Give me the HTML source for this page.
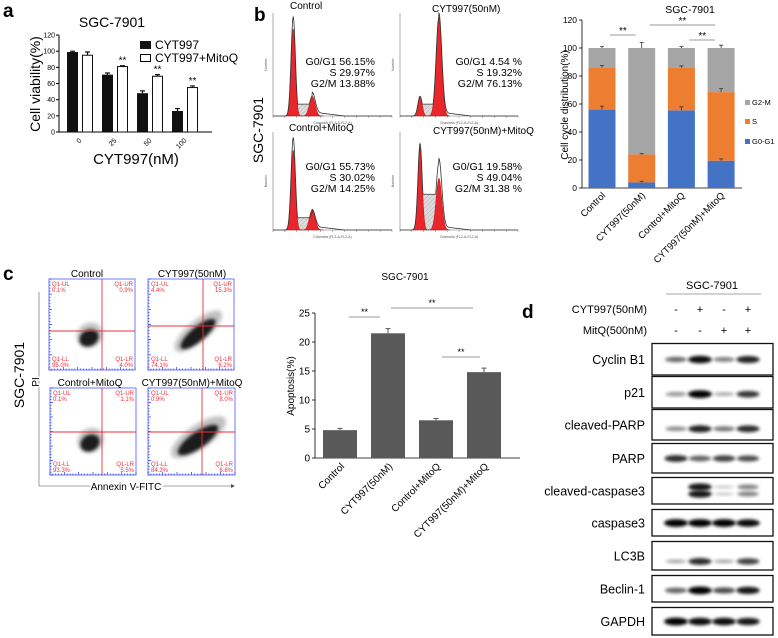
<!DOCTYPE html>
<html><head><meta charset="utf-8"><style>
html,body{margin:0;padding:0;background:#fff;}
svg{display:block;font-family:"Liberation Sans",Arial,sans-serif;}
</style></head><body>
<svg id="fig" width="778" height="638" viewBox="0 0 778 638" xmlns="http://www.w3.org/2000/svg">
<defs>
<filter id="blur1" x="-50%" y="-50%" width="200%" height="200%"><feGaussianBlur stdDeviation="1.6"/></filter>
<filter id="blur2" x="-50%" y="-50%" width="200%" height="200%"><feGaussianBlur stdDeviation="2"/></filter>
<pattern id="hatch" width="3" height="3" patternUnits="userSpaceOnUse" patternTransform="rotate(45)"><rect width="3" height="3" fill="#ddd"/><line x1="0" y1="0" x2="0" y2="3" stroke="#999" stroke-width="0.6"/></pattern>
</defs>
<text x="3" y="17" font-size="19" font-weight="bold">a</text>
<text x="254" y="21" font-size="19" font-weight="bold">b</text>
<text x="3" y="280" font-size="19" font-weight="bold">c</text>
<text x="522" y="318" font-size="19" font-weight="bold">d</text>

<g id="pa">
<text x="112" y="27" font-size="14" text-anchor="middle">SGC-7901</text>
<text transform="translate(40,84) rotate(-90)" font-size="14" text-anchor="middle">Cell viability(%)</text>
<text x="136" y="164" font-size="15" text-anchor="middle">CYT997(nM)</text>
<line x1="59" y1="35" x2="59" y2="132" stroke="#000" stroke-width="1"/>
<line x1="59" y1="132" x2="212" y2="132" stroke="#000" stroke-width="1"/>
<rect x="140" y="41" width="11" height="8" fill="#111"/>
<text x="155" y="49" font-size="12">CYT997</text>
<rect x="140.5" y="54.5" width="10" height="7" fill="#fff" stroke="#000"/>
<text x="155" y="62" font-size="12">CYT997+MitoQ</text>
</g>

<text transform="translate(263,130) rotate(-90)" font-size="14" text-anchor="middle">SGC-7901</text>
<g id="hist"></g>
<text x="290" y="9" font-size="10">Control</text>
<text x="432" y="12" font-size="10">CYT997(50nM)</text>
<text x="289" y="131" font-size="10">Control+MitoQ</text>
<text x="433" y="134" font-size="10">CYT997(50nM)+MitoQ</text>
<g font-size="10.5" text-anchor="end">
<text x="375" y="65">G0/G1 56.15%</text>
<text x="375" y="76">S 29.97%</text>
<text x="375" y="87">G2/M 13.88%</text>
<text x="522" y="65">G0/G1 4.54 %</text>
<text x="522" y="76">S 19.32%</text>
<text x="522" y="87">G2/M 76.13%</text>
<text x="375" y="170">G0/G1 55.73%</text>
<text x="375" y="181">S 30.02%</text>
<text x="375" y="192">G2/M 14.25%</text>
<text x="522" y="170">G0/G1 19.58%</text>
<text x="522" y="181">S 49.04%</text>
<text x="522" y="192">G2/M 31.38 %</text>
</g>

<g id="pb">
<text x="690" y="13" font-size="10.5" text-anchor="middle">SGC-7901</text>
<text transform="translate(568,105) rotate(-90)" font-size="10" text-anchor="middle">Cell cycle distribution(%)</text>
<line x1="582" y1="20" x2="582" y2="188" stroke="#000" stroke-width="0.8"/>
<line x1="582" y1="188" x2="742" y2="188" stroke="#000" stroke-width="0.8"/>
<rect x="745" y="100" width="5" height="5" fill="#a5a5a5"/>
<text x="752" y="105" font-size="7.5">G2-M</text>
<rect x="745" y="119" width="5" height="5" fill="#ed7d31"/>
<text x="752" y="124" font-size="7.5">S</text>
<rect x="745" y="139" width="5" height="5" fill="#4472c4"/>
<text x="752" y="144" font-size="7.5">G0-G1</text>
</g>

<text transform="translate(24,375) rotate(-90)" font-size="14" text-anchor="middle">SGC-7901</text>
<g id="flow"></g>
<text x="87" y="277" font-size="10" text-anchor="middle">Control</text>
<text x="192" y="277" font-size="10" text-anchor="middle">CYT997(50nM)</text>
<text x="90" y="386" font-size="10" text-anchor="middle">Control+MitoQ</text>
<text x="192" y="386" font-size="10" text-anchor="middle">CYT997(50nM)+MitoQ</text>
<polyline points="39,292 39,486 231,486" fill="none" stroke="#888" stroke-width="0.8"/>
<polygon points="231,484 235,486 231,488" fill="#555"/>
<text transform="translate(39,382) rotate(-90)" font-size="10" text-anchor="middle" style="paint-order:stroke" stroke="#fff" stroke-width="3">PI</text>
<text x="126" y="490" font-size="10" text-anchor="middle" style="paint-order:stroke" stroke="#fff" stroke-width="4">Annexin V-FITC</text>

<g id="pc">
<text x="405" y="280" font-size="10" text-anchor="middle">SGC-7901</text>
<text transform="translate(294,386) rotate(-90)" font-size="10" text-anchor="middle">Apoptosis(%)</text>
<line x1="315" y1="313" x2="315" y2="458" stroke="#000" stroke-width="0.8"/>
<line x1="315" y1="458" x2="520" y2="458" stroke="#000" stroke-width="0.8"/>
</g>

<g id="pd">
<text x="712" y="289" font-size="11" text-anchor="middle">SGC-7901</text>
<line x1="666" y1="294" x2="761" y2="294" stroke="#888" stroke-width="0.8"/>
<text x="647" y="313" font-size="11" text-anchor="end">CYT997(50nM)</text>
<text x="647" y="334" font-size="11" text-anchor="end">MitQ(500nM)</text>
</g>

<script>
const NS='http://www.w3.org/2000/svg';
function mk(tag,attrs,parent,text){const e=document.createElementNS(NS,tag);for(const k in attrs)e.setAttribute(k,attrs[k]);if(text!==undefined)e.textContent=text;parent.appendChild(e);return e;}

const aCategories=['0','25','50','100'];
const aCyt=[99,71,48,26];
const aCytErr=[1,2,3,3];
const aMito=[95,81,69,55];
const aMitoErr=[4,1,2,2];
const aSig=['','**','**','**'];
const aTicks=[0,20,40,60,80,100,120];

const bCategories=['Control','CYT997(50nM)','Control+MitoQ','CYT997(50nM)+MitoQ'];
const bG1=[56,4,55.5,19.5];
const bS=[30,20,30.5,49];
const bG2=[14,76,14,31.5];
const bG1Err=[2.5,0.8,2.5,1.3];
const bSErr=[1.5,0.5,1.2,2.5];
const bTopErr=[1,4,1,2];
const bTicks=[0,20,40,60,80,100,120];
const histG1=[0.88,0.2,0.85,0.88];
const histG2=[0.2,1.0,0.22,0.55];
const histOutG1=[1.0,0.2,0.98,0.92];
const histOutG2=[0.2,1.0,0.18,0.72];
const histS=[0.12,0.12,0.13,0.38];

const cCategories=['Control','CYT997(50nM)','Control+MitoQ','CYT997(50nM)+MitoQ'];
const cValues=[4.8,21.5,6.5,14.8];
const cErr=[0.3,0.8,0.3,0.7];
const cTicks=[0,5,10,15,20,25];
const flowUL=['0.1%','4.4%','0.1%','0.9%'];
const flowUR=['0.9%','15.3%','1.1%','8.0%'];
const flowLL=['95.0%','74.1%','93.3%','84.3%'];
const flowLR=['4.0%','6.2%','5.5%','6.8%'];

const blotLabels=['Cyclin B1','p21','cleaved-PARP','PARP','cleaved-caspase3','caspase3','LC3B','Beclin-1','GAPDH'];
const blotCyt=['-','+','-','+'];
const blotMitq=['-','-','+','+'];
const blotIntensity=[[0.5,0.95,0.4,0.85],[0.3,1,0.2,0.75],[0.35,0.85,0.45,0.8],[0.8,0.55,0.7,0.65],[0,0.9,0.06,0.4],[1,1,1,0.95],[0.2,0.8,0.2,0.7],[0.55,1,0.65,0.9],[1,0.95,0.95,0.9]];

(function(){
const g=document.getElementById('pa');
const ya=v=>132-v*0.808;
const cx=i=>80+i*35;
aTicks.forEach(t=>{
 const tk=mk('line',{x1:56,x2:59,y1:ya(t),y2:ya(t),stroke:'#000'},g);
 
 
 const tl=mk('text',{x:55,y:ya(t)+2.5,'font-size':7,'text-anchor':'end'},g,String(t));
 
 
});
aCategories.forEach((c,i)=>{
 const x=cx(i);
 const b1=mk('rect',{x:x-13,y:ya(aCyt[i]),width:11,height:132-ya(aCyt[i]),fill:'#111'},g);
 
 
 const e1=mk('path',{d:`M${x-7.5},${ya(aCyt[i])} V${ya(aCyt[i]+aCytErr[i])} M${x-10},${ya(aCyt[i]+aCytErr[i])} H${x-5}`,stroke:'#111','stroke-width':1.2,fill:'none'},g);
 
 
 const b2=mk('rect',{x:x+2.5,y:ya(aMito[i]),width:10,height:132-ya(aMito[i]),fill:'#fff',stroke:'#111','stroke-width':1},g);
 
 
 const e2=mk('path',{d:`M${x+7.5},${ya(aMito[i])} V${ya(aMito[i]+aMitoErr[i])} M${x+5},${ya(aMito[i]+aMitoErr[i])} H${x+10}`,stroke:'#111','stroke-width':1.2,fill:'none'},g);
 
 
 if(aSig[i]){
  const s=mk('text',{x:x+7.5,y:ya(aMito[i]+aMitoErr[i])-2,'font-size':10,'text-anchor':'middle'},g,aSig[i]);
  
  
 }
 const tl=mk('text',{x:x+2,y:141,'font-size':7,'text-anchor':'end',transform:`rotate(-45 ${x+2} 141)`},g,c);
 
 
});
})();

(function(){
const g=document.getElementById('hist');
const boxes=[[273,392,13,116],[400,518,13,116],[273,392,132,230],[400,518,132,230]];
const gauss=(x,m,s)=>Math.exp(-0.5*((x-m)/s)**2);
boxes.forEach((b,i)=>{
 const [x0,x1,yt,yb]=b;
 const X=ch=>x0+ch/100*(x1-x0);
 const Y=v=>yb-v*(yb-yt-4);
 const ax=mk('polyline',{points:`${x0},${yt} ${x0},${yb} ${x1},${yb}`,fill:'none',stroke:'#777','stroke-width':0.6},g);
 
 
 for(let k=0;k<=10;k++){
  const t=mk('line',{x1:X(k*10),x2:X(k*10),y1:yb,y2:yb+2,stroke:'#777','stroke-width':0.5},g);
  
  
 }
 const cap=mk('text',{x:(x0+x1)/2,y:yb+8,'font-size':3.5,'text-anchor':'middle',fill:'#555'},g,'Channels (FL2-A-FL2-A)');
 
 
 const yl=mk('text',{x:0,y:0,'font-size':3.5,'text-anchor':'middle',fill:'#555',transform:`translate(${x0-6},${(yt+yb)/2}) rotate(-90)`},g,'Number');
 
 
 let sp=`M${X(17)},${Y(0)}`;
 for(let c=17;c<=33;c+=0.5){sp+=` L${X(c)},${Y(histS[i])}`;}
 sp+=` L${X(33)},${Y(0)} Z`;
 const sr=mk('path',{d:sp,fill:'url(#hatch)'},g);
 
 
 [[17,1.8,histG1[i]],[33,2.4,histG2[i]]].forEach((p,j)=>{
  let d=`M${X(p[0]-4*p[1])},${Y(0)}`;
  for(let c=p[0]-4*p[1];c<=p[0]+4*p[1];c+=0.25)d+=` L${X(c)},${Y(p[2]*gauss(c,p[0],p[1]))}`;
  d+=' Z';
  const r=mk('path',{d:d,fill:'#e8262b',stroke:'#a00','stroke-width':0.4},g);
  
  
 });
 let od='';
 for(let c=0;c<=100;c+=0.25){
  let v=histOutG1[i]*gauss(c,17,1.8)+histOutG2[i]*gauss(c,33,2.4);
  if(c>17&&c<33)v=Math.max(v,histS[i]);
  if(c>=33&&c<60)v+=0.04*(1-(c-33)/27);
  od+=(c?' L':'M')+X(c)+','+Y(v);
 }
 const o=mk('path',{d:od,fill:'none',stroke:'#333','stroke-width':0.8},g);
 
 
});
})();

(function(){
const g=document.getElementById('pb');
const yb=v=>188-v*1.4;
const cx=i=>602+i*39.7;
bTicks.forEach(t=>{
 const tk=mk('line',{x1:579,x2:582,y1:yb(t),y2:yb(t),stroke:'#000','stroke-width':0.8},g);
 
 
 const tl=mk('text',{x:577,y:yb(t)+3,'font-size':8.5,'text-anchor':'end'},g,String(t));
 
 
});
bCategories.forEach((c,i)=>{
 const x=cx(i);
 const s1=bG1[i],s2=bG1[i]+bS[i],s3=bG1[i]+bS[i]+bG2[i];
 const r1=mk('rect',{x:x-13.5,y:yb(s1),width:27,height:yb(0)-yb(s1),fill:'#4472c4'},g);
 
 
 const r2=mk('rect',{x:x-13.5,y:yb(s2),width:27,height:yb(s1)-yb(s2),fill:'#ed7d31'},g);
 
 
 const r3=mk('rect',{x:x-13.5,y:yb(s3),width:27,height:yb(s2)-yb(s3),fill:'#a5a5a5'},g);
 
 
 [[s1,bG1Err[i]],[s2,bSErr[i]],[s3,bTopErr[i]]].forEach(e=>{
  const p=mk('path',{d:`M${x},${yb(e[0])} V${yb(e[0]+e[1])} M${x-2},${yb(e[0]+e[1])} H${x+2}`,stroke:'#333','stroke-width':0.8,fill:'none'},g);
  
  
 });
 const tl=mk('text',{x:x+4,y:196,'font-size':9.5,'text-anchor':'end',transform:`rotate(-45 ${x+4} 196)`},g,c);
 
 
});
[[0,1,35],[1,3,25],[2,3,40]].forEach(s=>{
 const l=mk('line',{x1:cx(s[0])+8,x2:cx(s[1])-6,y1:s[2],y2:s[2],stroke:'#777','stroke-width':0.7},g);
 
 
 const t=mk('text',{x:(cx(s[0])+cx(s[1]))/2+1,y:s[2]-1,'font-size':10,'text-anchor':'middle'},g,'**');
 
 
});
})();

(function(){
const g=document.getElementById('flow');
const boxes=[[49,279,86,91],[148,279,86,91],[50,388,86,87],[148,388,87,87]];
const blobs=[[40,59,10,8,-30],[50,55,22,7,-40],[40,55,10,8,-30],[50,52,24,8,-35]];
const qx=[53,55,52,54], qy=[52,47,44,44];
boxes.forEach((b,i)=>{
 const [x,y,w,h]=b;
 const r=mk('rect',{x:x,y:y,width:w,height:h,fill:'#fff',stroke:'#5b6cff','stroke-width':0.9},g);
 
 
 for(let k=0;k<=30;k++){
  const t=mk('line',{x1:x+k*w/30,x2:x+k*w/30,y1:y+h,y2:y+h-(k%5?1.5:3),stroke:'#3344ff','stroke-width':0.8},g);
  
  
  const t2=mk('line',{x1:x,x2:x+(k%5?1.5:3),y1:y+k*h/30,y2:y+k*h/30,stroke:'#3344ff','stroke-width':0.8},g);
  
  
 }
 const bl=blobs[i];
 const cxp=x+bl[0],cyp=y+bl[1];
 const halo=mk('ellipse',{cx:cxp+2,cy:cyp-2,rx:bl[2]*1.35,ry:bl[3]*1.5,fill:'#000',opacity:0.25,filter:'url(#blur2)',transform:`rotate(${bl[4]} ${cxp} ${cyp})`},g);
 
 
 const core=mk('ellipse',{cx:cxp,cy:cyp,rx:bl[2],ry:bl[3],fill:'#000',opacity:0.85,filter:'url(#blur1)',transform:`rotate(${bl[4]} ${cxp} ${cyp})`},g);
 
 
 const v=mk('line',{x1:x+qx[i],x2:x+qx[i],y1:y,y2:y+h,stroke:'#e8323c','stroke-width':0.9},g);
 
 
 const hz=mk('line',{x1:x,x2:x+w,y1:y+qy[i],y2:y+qy[i],stroke:'#e8323c','stroke-width':0.9},g);
 
 
 const labs=[['Q1-UL',flowUL[i],x+3,y+7,'start'],['Q1-UR',flowUR[i],x+w-2,y+7,'end'],['Q1-LL',flowLL[i],x+3,y+h-9,'start'],['Q1-LR',flowLR[i],x+w-2,y+h-9,'end']];
 labs.forEach(l=>{
  const a=mk('text',{x:l[2],y:l[3],'font-size':6,fill:'#e8323c','text-anchor':l[4]},g,l[0]);
  
  
  const p=mk('text',{x:l[2],y:l[3]+6,'font-size':6,fill:'#e8323c','text-anchor':l[4]},g,l[1]);
  
  
 });
});
})();

(function(){
const g=document.getElementById('pc');
const yc=v=>458-v*5.8;
const cx=i=>340+i*48;
cTicks.forEach(t=>{
 const tk=mk('line',{x1:312,x2:315,y1:yc(t),y2:yc(t),stroke:'#000','stroke-width':0.8},g);
 
 
 const tl=mk('text',{x:310,y:yc(t)+3.5,'font-size':10,'text-anchor':'end'},g,String(t));
 
 
});
cCategories.forEach((c,i)=>{
 const x=cx(i);
 const r=mk('rect',{x:x-17,y:yc(cValues[i]),width:34,height:458-yc(cValues[i]),fill:'#595959'},g);
 
 
 const e=mk('path',{d:`M${x},${yc(cValues[i])} V${yc(cValues[i]+cErr[i])} M${x-2.5},${yc(cValues[i]+cErr[i])} H${x+2.5}`,stroke:'#555','stroke-width':1,fill:'none'},g);
 
 
 const tl=mk('text',{x:x+5,y:467,'font-size':10,'text-anchor':'end',transform:`rotate(-45 ${x+5} 467)`},g,c);
 
 
});
[[0,1,317,349,380],[1,3,308,391,473],[2,3,357,442,480]].forEach(s=>{
 const l=mk('line',{x1:s[3],x2:s[4],y1:s[2],y2:s[2],stroke:'#777','stroke-width':0.7},g);
 
 
 const t=mk('text',{x:(s[3]+s[4])/2,y:s[2]-2,'font-size':9,'text-anchor':'middle'},g,'**');
 
 
});
})();

(function(){
const g=document.getElementById('pd');
const lanes=[676,700,724,748];
const rows=[[343,376],[376,409],[409,441],[443,474],[477,505],[509,537],[541,571],[575,603],[607,636]];
const bandPos=[0.5,0.55,0.62,0.5,0.5,0.5,0.68,0.55,0.5];
lanes.forEach((lx,i)=>{
 const a=mk('text',{x:lx,y:313,'font-size':11,'text-anchor':'middle'},g,blotCyt[i]);
 
 
 const b=mk('text',{x:lx,y:334,'font-size':11,'text-anchor':'middle'},g,blotMitq[i]);
 
 
});
blotLabels.forEach((lab,r)=>{
 const [y0,y1]=rows[r];
 const box=mk('rect',{x:652,y:y0+0.5,width:121,height:y1-y0-1.5,fill:'#fff',stroke:'#111','stroke-width':1.3},g);
 
 
 const t=mk('text',{x:645,y:(y0+y1)/2+4.5,'font-size':12.5,'text-anchor':'end'},g,lab);
 
 
 const by=y0+(y1-y0)*bandPos[r];
 blotIntensity[r].forEach((v,i)=>{
  if(v<=0)return;
  const ys=(r===4)?[by-4,by+3]:[by];
  ys.forEach(yy=>{
   const e=mk('ellipse',{cx:lanes[i],cy:yy,rx:10+v*2,ry:1.5+v*2.4,fill:'#000',opacity:Math.min(1,0.15+v*0.85),filter:'url(#blur1)'},g);
   
   
  });
 });
});
})();
</script>
</svg>
</body></html>
